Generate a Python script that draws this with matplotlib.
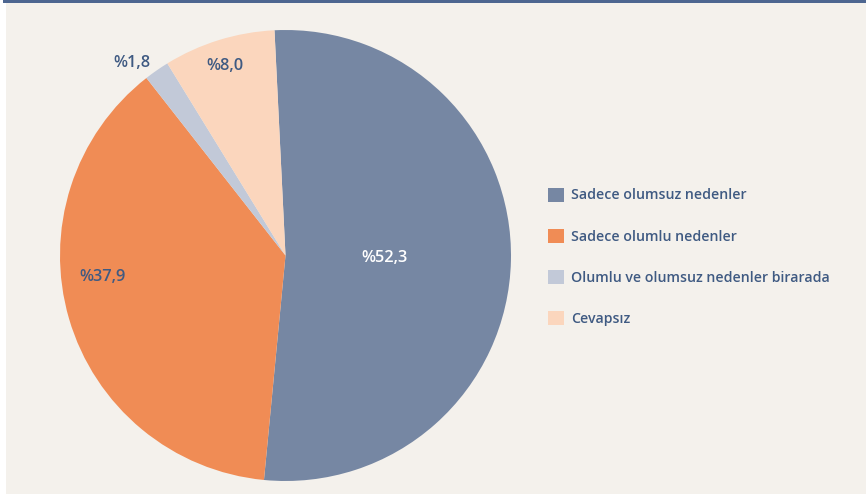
import matplotlib.pyplot as plt
from matplotlib.patches import Rectangle
import numpy as np

# pie data
categories = [
    "Sadece olumsuz nedenler",
    "Sadece olumlu nedenler",
    "Olumlu ve olumsuz nedenler birarada",
    "Cevapsız",
]
values = [52.3, 37.9, 1.8, 8.0]
value_labels = ["%52,3", "%37,9", "%1,8", "%8,0"]

colors = ["#7687a3", "#f08c55", "#c2c9d8", "#fbd6bd"]
label_colors = ["white", "#3f5a82", "#3f5a82", "#3f5a82"]
label_r = [0.44, 0.815, 1.09, 0.88]
label_shift = [0.0, -9.6, 3.7, 0.5]  # degrees, nudges off the wedge middle

W, H = 866, 497
fig = plt.figure(figsize=(W / 100, H / 100), dpi=100)
fig.patch.set_facecolor("white")

# panel background + top rule
fig.patches.append(Rectangle((6 / W, 3 / H), 1 - 6 / W, 1 - 3 / H,
                             transform=fig.transFigure, facecolor="#f4f1ec",
                             edgecolor="none", zorder=-3))
fig.patches.append(Rectangle((3 / W, 1 - 2.5 / H), 1 - 3 / W, 2.5 / H,
                             transform=fig.transFigure, facecolor="#4d6690",
                             edgecolor="none", zorder=-2))

cx, cy, r = 285.5, 255.5, 225.5
ax = fig.add_axes([(cx - r) / W, (H - cy - r) / H, 2 * r / W, 2 * r / H])
ax.set_facecolor("none")

wedges, _ = ax.pie(values, colors=colors, startangle=92.8, counterclock=False,
                   radius=1.0, wedgeprops=dict(linewidth=0))
ax.set_xlim(-1, 1)
ax.set_ylim(-1, 1)
ax.set_aspect("equal")
ax.axis("off")

for w, lab, c, rr, sh in zip(wedges, value_labels, label_colors, label_r, label_shift):
    mid = np.deg2rad((w.theta1 + w.theta2) / 2 + sh)
    ax.text(rr * np.cos(mid), rr * np.sin(mid), lab, color=c,
            ha="center", va="center", fontsize=11.8, fontweight="semibold",
            family="Open Sans", clip_on=False)

leg = fig.legend(wedges, categories, loc="upper left",
                 bbox_to_anchor=(542 / W, 1 - 182 / H), frameon=False,
                 handlelength=1.15, handleheight=1.15, handletextpad=0.5,
                 labelspacing=1.85, borderaxespad=0,
                 prop=dict(family="Open Sans", size=10.2, weight="semibold"))
for t in leg.get_texts():
    t.set_color("#3f5a82")

fig.savefig("out.png", dpi=100)
